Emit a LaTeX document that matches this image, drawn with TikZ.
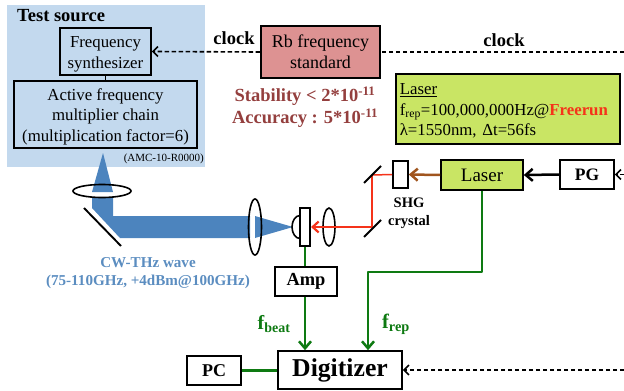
\documentclass[tikz,border=0pt]{standalone}
\usepackage{fontspec}
\setmainfont{Liberation Serif}
\usetikzlibrary{arrows.meta,calc,shapes.geometric}
\definecolor{srcbg}{HTML}{C3D9EE}
\definecolor{rbred}{HTML}{DD9292}
\definecolor{lasergr}{HTML}{C9E564}
\definecolor{beam}{HTML}{4C84BE}
\definecolor{wavetxt}{HTML}{5B8DC0}
\definecolor{stab}{HTML}{943F3E}
\definecolor{sig}{HTML}{0E7A12}
\definecolor{redb}{HTML}{F5331A}
\definecolor{brownb}{HTML}{A0551E}
\tikzset{
  bx/.style={draw=black,line width=1.6pt,inner sep=0pt,align=center},
  lens/.style={draw=black,line width=1.6pt},
  bigtip/.style={-{Straight Barb[length=7pt,width=12pt,line width=2.5pt]}},
  sigline/.style={draw=sig,line width=2.5pt},
  sigarrow/.style={sigline,bigtip},
  clockline/.style={draw=black,line width=1.6pt,dash pattern=on 4.5pt off 2.5pt},
  clockarrow/.style={clockline,-{Straight Barb[length=5pt,width=10pt,line width=1.6pt]}},
  mirrorline/.style={draw=black,line width=1.9pt},
  blab/.style={inner sep=0pt,align=center}
}
\begin{document}
\begin{tikzpicture}[x=1pt,y=-1pt]
\useasboundingbox (0,0) rectangle (624,391);
% test source panel
\fill[srcbg] (7,5) rectangle (205,167);
\node[blab,font=\bfseries\fontsize{18.5}{20}\selectfont,anchor=west] (ts) at (17,16) {Test source};
\node[bx,minimum width=91pt,minimum height=47pt,font=\fontsize{16.8}{20.5}\selectfont] (syn) at (105.5,51.5) {\rule{0pt}{17pt}Frequency\\synthesizer};
\node[bx,minimum width=183pt,minimum height=67pt,font=\fontsize{16.8}{20.5}\selectfont] (mul) at (105.5,114.5) {\rule{0pt}{16pt}Active frequency\\multiplier chain\\(multiplication factor=6)};
\draw[line width=1.6pt] (syn) -- (mul);
\node[inner sep=0pt,font=\fontsize{11}{12}\selectfont,anchor=east] (amc) at (204,159) {(AMC-10-R0000)};
% Rb
\node[bx,fill=rbred,minimum width=119pt,minimum height=52pt,font=\fontsize{18}{21}\selectfont] (rb) at (320.5,52) {Rb frequency\\standard};
\coordinate (clkR) at (624,52);
\draw[clockline] (clkR) -- (rb.east);
\draw[clockarrow] (rb.west) -- (syn.east);
\node[blab,font=\bfseries\fontsize{18.5}{20}\selectfont] (ck1) at (234,38) {clock};
\node[blab,font=\bfseries\fontsize{18.5}{20}\selectfont] (ck2) at (504,40) {clock};
\node[blab,text=stab,font=\bfseries\fontsize{18.5}{22}\selectfont] (st) at (305,107) {Stability < 2*10\textsuperscript{-11}\\Accuracy : 5*10\textsuperscript{-11}};
% laser info
\node[bx,fill=lasergr,anchor=north west,minimum width=224pt,minimum height=70pt,align=left,text width=216pt,font=\fontsize{16.8}{20.5}\selectfont] (info) at (395,73) {\rule{0pt}{15pt}\underline{Laser}\\f\textsubscript{rep}=100,000,000Hz@\textcolor{redb}{\textbf{Freerun}}\\λ=1550nm, Δt=56fs};
% beam
\fill[beam] (92,192) -- (103,153) -- (113,192) -- cycle;
\fill[beam] (92,197) -- (113,197) -- (113,216) -- (250,216) -- (250,238) -- (120,238) -- (92,208) -- cycle;
\fill[beam] (255,216) -- (293,227) -- (255,238) -- cycle;
\draw[mirrorline] (84,208) -- (121,246);
\node[lens,ellipse,minimum width=58pt,minimum height=13pt,inner sep=0pt] (topl) at (102,191) {};
\node[lens,ellipse,minimum width=13pt,minimum height=56pt,inner sep=0pt] (bigl) at (255,227) {};
\node[lens,ellipse,minimum width=12pt,minimum height=38pt,inner sep=0pt] (smalll) at (329,227) {};
% detector
\draw[line width=1.6pt,fill=white] (300,215.5) arc[start angle=90,end angle=270,x radius=8pt,y radius=11.5pt];
\node[bx,fill=white,minimum width=10.5pt,minimum height=38pt] (det) at (305,227) {};
% optics path
\coordinate (m1) at (372,175);
\coordinate (m2) at (372,227);
\node[bx,fill=white,minimum width=15pt,minimum height=27pt] (shg) at (400.5,174.5) {};
\draw[draw=redb,line width=1.5pt] (shg.west) -- (m1);
\draw[draw=redb,line width=2pt] (m1) -- (m2);
\draw[draw=redb,line width=2.2pt,-{Straight Barb[length=6pt,width=11pt,line width=2.2pt]}] (m2) -- (det.east);
\draw[mirrorline] (364,183) -- (381,166);
\draw[mirrorline] (364,237) -- (381,220);
\node[blab,font=\bfseries\fontsize{14.5}{18}\selectfont] (shgl) at (409,213) {SHG\\crystal};
% laser row
\node[bx,fill=lasergr,minimum width=82pt,minimum height=30pt,font=\fontsize{19}{22}\selectfont] (las) at (482,175) {Laser};
\node[bx,minimum width=54pt,minimum height=29pt,font=\bfseries\fontsize{17.5}{20}\selectfont] (pg) at (587,174.5) {PG};
\draw[draw=brownb,line width=2.5pt,bigtip] (las.west) -- (shg.east);
\draw[line width=2.5pt,bigtip] (pg.west) -- (las.east);
\coordinate (pgR) at (624,174.5);
\draw[clockarrow] (pgR) -- (pg.east);
% lower row
\node[bx,minimum width=62pt,minimum height=29pt,font=\bfseries\fontsize{18.4}{20}\selectfont] (amp) at (306,281.5) {Amp};
\node[bx,minimum width=124pt,minimum height=38pt,font=\bfseries\fontsize{25.7}{28}\selectfont] (dig) at (340,370) {Digitizer};
\node[bx,minimum width=54pt,minimum height=29pt,font=\bfseries\fontsize{18}{20}\selectfont] (pc) at (214,370.5) {PC};
\draw[sigline,line width=2.2pt] (det.south) -- (amp.north -| det.south);
\draw[sigarrow] (amp.south -| det.south) -- (dig.north -| det.south);
\coordinate (t1) at (482,272);
\coordinate (t2) at (368,272);
\draw[sigarrow,line join=round] (las.south) -- (t1) -- (t2) -- (t2 |- dig.north);
\draw[sigline] (pc.east) -- (pc.east -| dig.west);
\coordinate (digR) at (624,370);
\draw[clockarrow] (digR) -- (dig.east);
% labels
\node[blab,text=sig,font=\bfseries\fontsize{20}{22}\selectfont] (fb) at (274,324) {f\textsubscript{beat}};
\node[blab,text=sig,font=\bfseries\fontsize{20.5}{22}\selectfont] (fr) at (396,324) {f\textsubscript{rep}};
\node[blab,text=wavetxt,font=\bfseries\fontsize{15.1}{18}\selectfont] (cw) at (148,273) {CW-THz wave\\(75-110GHz, +4dBm@100GHz)};
\end{tikzpicture}
\end{document}
